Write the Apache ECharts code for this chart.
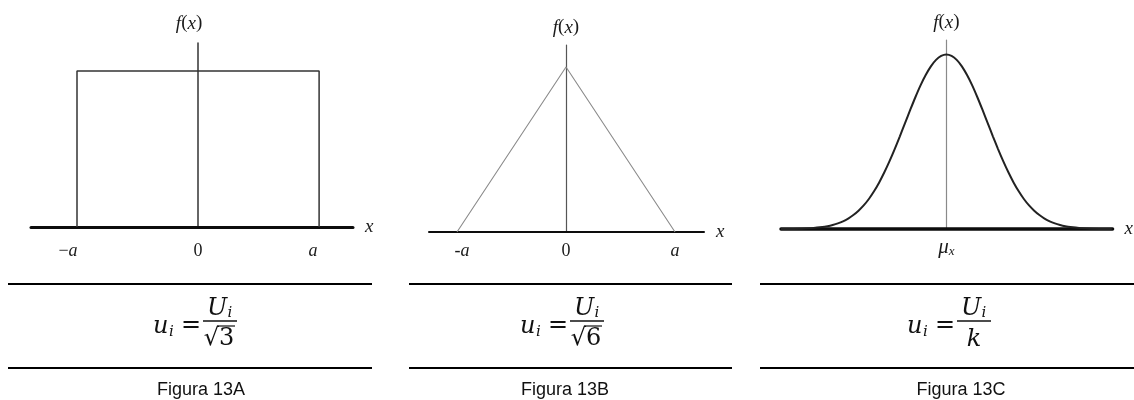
<!DOCTYPE html>
<html>
<head>
<meta charset="utf-8">
<script src="https://cdn.jsdelivr.net/npm/echarts@6/dist/echarts.min.js"></script>
<style>
  html, body { margin: 0; padding: 0; background: #fff; }
  #chart { width: 1134px; height: 400px; }
</style>
</head>
<body>
<div id="chart"></div>
<script>
// Panel A: uniform (rectangular) distribution, half-width a = 1
const rectX = [-1, -1, 1, 1];
const rectY = [0, 1, 1, 0];
// Panel B: triangular distribution, half-width a = 1
const triX = [-1, 0, 1];
const triY = [0, 1, 0];
// Panel C: bell curve, x in units of sigma from the mean, height relative to the peak
const normX = [-4, -3.5, -3.25, -3, -2.875, -2.75, -2.625, -2.5, -2.375, -2.25, -2.125, -2, -1.875, -1.75, -1.625,
               -1.5, -1.375, -1.25, -1.125, -1, -0.875, -0.75, -0.625, -0.5, -0.375, -0.25, -0.125, 0,
               0.125, 0.25, 0.375, 0.5, 0.625, 0.75, 0.875, 1, 1.125, 1.25, 1.375, 1.5,
               1.625, 1.75, 1.875, 2, 2.125, 2.25, 2.375, 2.5, 2.625, 2.75, 2.875, 3, 3.25, 3.5, 4];
const normY = [0, 0.002, 0.005, 0.011, 0.016, 0.023, 0.032, 0.044, 0.060, 0.080, 0.105, 0.135, 0.172, 0.216, 0.267,
               0.325, 0.389, 0.458, 0.531, 0.607, 0.682, 0.755, 0.823, 0.882, 0.932, 0.969, 0.992, 1,
               0.992, 0.969, 0.932, 0.882, 0.823, 0.755, 0.682, 0.607, 0.531, 0.458, 0.389, 0.325,
               0.267, 0.216, 0.172, 0.135, 0.105, 0.080, 0.060, 0.044, 0.032, 0.023, 0.016, 0.011, 0.005, 0.002, 0];

// Tick positions and labels on the x axes
const tickValuesA = [-1, 0, 1];
const tickLabelsA = ['−a', '0', 'a'];
const tickValuesB = [-1, 0, 1];
const tickLabelsB = ['-a', '0', 'a'];
const tickValuesC = [0];
const tickLabelsC = ['μ_x'];

// Formula denominators and captions under each panel
const denominators = ['√3', '√6', 'k'];
const captions = ['Figura 13A', 'Figura 13B', 'Figura 13C'];

const INK = '#1a1a1a';
const SERIF = 'Liberation Serif';
const MATH = 'DejaVu Serif';

const labelRich = {
  it: { fontFamily: SERIF, fontStyle: 'italic', fontSize: 18, color: INK },
  up: { fontFamily: SERIF, fontSize: 18, color: INK },
  mu: { fontFamily: SERIF, fontStyle: 'italic', fontSize: 21, color: INK },
  sub: { fontFamily: SERIF, fontStyle: 'italic', fontSize: 13, color: INK, padding: [9, 0, 0, 0] },
  nit: { fontFamily: SERIF, fontStyle: 'italic', fontSize: 19, color: INK },
  nup: { fontFamily: SERIF, fontSize: 19, color: INK },
  padL: { width: 10 },
  padR: { width: 18 },
  padR2: { width: 12 }
};

// Turn "−a" / "μ_x" into rich text: letters italic, text after "_" as subscript
function toRich(s) {
  let out = '';
  for (let i = 0; i < s.length; i++) {
    const ch = s[i];
    if (ch === '_') { out += '{sub|' + s[i + 1] + '}'; i++; continue; }
    if (ch === 'μ') { out += '{mu|μ}'; continue; }
    out += /[a-z]/i.test(ch) ? '{it|' + ch + '}' : '{up|' + ch + '}';
  }
  return out;
}

function makeFormatter(values, labels, pads) {
  return function (v) {
    const idx = values.findIndex(t => Math.abs(t - v) < 1e-9);
    if (idx < 0) return '';
    const p = pads ? pads[idx] : '';
    if (p === 'L') return '{padL| }' + toRich(labels[idx]);
    if (p === 'R') return toRich(labels[idx]) + '{padR| }';
    if (p === 'R2') return toRich(labels[idx]) + '{padR2| }';
    return toRich(labels[idx]);
  };
}

function xAxisCfg(gi, min, max, lineW, values, labels, margin, pads) {
  return {
    type: 'value', gridIndex: gi, min: min, max: max,
    axisLine: { onZero: true, lineStyle: { color: '#0d0d0d', width: lineW } },
    axisTick: { show: false },
    splitLine: { show: false },
    axisLabel: {
      customValues: values, margin: margin,
      formatter: makeFormatter(values, labels, pads), rich: labelRich
    },
    name: 'x', nameLocation: 'end', nameGap: 12,
    nameTextStyle: { fontFamily: SERIF, fontStyle: 'italic', fontSize: 19, color: INK, verticalAlign: 'middle' }
  };
}

function yAxisCfg(gi, max, color, lineW, gap, padR) {
  return {
    type: 'value', gridIndex: gi, min: 0, max: max,
    axisLine: { onZero: true, lineStyle: { color: color, width: lineW } },
    axisTick: { show: false },
    splitLine: { show: false },
    axisLabel: { show: false },
    name: '{nit|f}{nup|(}{nit|x}{nup|)}', nameLocation: 'end', nameGap: gap,
    nameTextStyle: { padding: [0, padR, 0, 0], rich: labelRich }
  };
}

function pairs(xs, ys) { return xs.map((x, i) => [x, ys[i]]); }

// Formula u_i = U_i / den, laid out from the left edge ux and fraction bar height by
function formula(ux, by, den) {
  const els = [];
  const it = (x, y, t, size, align) => ({
    type: 'text', x: x, y: y, silent: true,
    style: { text: t, fontFamily: MATH, fontStyle: 'italic', fontSize: size, fill: '#111', align: align || 'left', verticalAlign: 'middle' }
  });
  const up = (x, y, t, size, align) => ({
    type: 'text', x: x, y: y, silent: true,
    style: { text: t, fontFamily: MATH, fontSize: size, fill: '#111', align: align || 'left', verticalAlign: 'middle' }
  });
  els.push(it(ux, by + 6, 'u', 24));
  els.push(it(ux + 16, by + 11, 'i', 15));
  els.push(up(ux + 28, by + 5, '=', 24));
  els.push({ type: 'line', silent: true, shape: { x1: ux + 50, y1: by, x2: ux + 84, y2: by }, style: { stroke: '#111', lineWidth: 1.3 } });
  els.push(it(ux + 64, by - 12, 'U', 24, 'center'));
  els.push(it(ux + 77, by - 8, 'i', 15, 'center'));
  if (den.charAt(0) === '√') {
    els.push(up(ux + 66, by + 18, den, 24, 'center'));
    // overbar of the radical
    els.push({ type: 'line', silent: true, shape: { x1: ux + 64, y1: by + 5, x2: ux + 82, y2: by + 5 }, style: { stroke: '#111', lineWidth: 1.2 } });
  } else {
    els.push(it(ux + 67, by + 19, den, 24, 'center'));
  }
  return els;
}

function rule(x1, x2, y) {
  return { type: 'line', silent: true, shape: { x1: x1, y1: y, x2: x2, y2: y }, style: { stroke: '#000', lineWidth: 2 } };
}

function caption(cx, text) {
  return {
    type: 'text', x: cx, y: 390, silent: true,
    style: { text: text, fontFamily: 'Liberation Sans', fontSize: 18, fill: '#111', align: 'center', verticalAlign: 'middle' }
  };
}

const graphic = [
  rule(8, 372, 284), rule(8, 372, 368),
  rule(409, 732, 284), rule(409, 732, 368),
  rule(760, 1134, 284), rule(760, 1134, 368)
]
  .concat(formula(153, 321, denominators[0]))
  .concat(formula(520, 321, denominators[1]))
  .concat(formula(907, 321, denominators[2]))
  .concat([caption(201, captions[0]), caption(565, captions[1]), caption(961, captions[2])]);

const option = {
  animation: false,
  backgroundColor: '#ffffff',
  grid: [
    { left: 31, width: 322, top: 43, height: 184 },
    { left: 429, width: 275, top: 45, height: 187 },
    { left: 781, width: 337, top: 40, height: 189 }
  ],
  xAxis: [
    xAxisCfg(0, -1.38, 1.28, 3, tickValuesA, tickLabelsA, 15, ['R', '', 'R2']),
    xAxisCfg(1, -1.257, 1.266, 2, tickValuesB, tickLabelsB, 10, ['L', '', '']),
    xAxisCfg(2, -4.0, 4.02, 3.5, tickValuesC, tickLabelsC, 7, null)
  ],
  yAxis: [
    yAxisCfg(0, 1.18, '#333', 1.5, 10, 18),
    yAxisCfg(1, 1.133, '#555', 1.2, 8, 0),
    yAxisCfg(2, 1.083, '#8a8a8a', 1.2, 8, 0)
  ],
  series: [
    {
      type: 'line', xAxisIndex: 0, yAxisIndex: 0, data: pairs(rectX, rectY),
      showSymbol: false, lineStyle: { color: '#333', width: 1.5 }, z: 3
    },
    {
      type: 'line', xAxisIndex: 1, yAxisIndex: 1, data: pairs(triX, triY),
      showSymbol: false, lineStyle: { color: '#8a8a8a', width: 1.1 }, z: 3
    },
    {
      type: 'line', xAxisIndex: 2, yAxisIndex: 2, data: pairs(normX, normY),
      showSymbol: false, smooth: 0.3, lineStyle: { color: '#222', width: 2 }, z: 3
    }
  ],
  graphic: graphic
};

const chart = echarts.init(document.getElementById('chart'), null, { renderer: 'canvas' });
chart.setOption(option);
</script>
</body>
</html>
